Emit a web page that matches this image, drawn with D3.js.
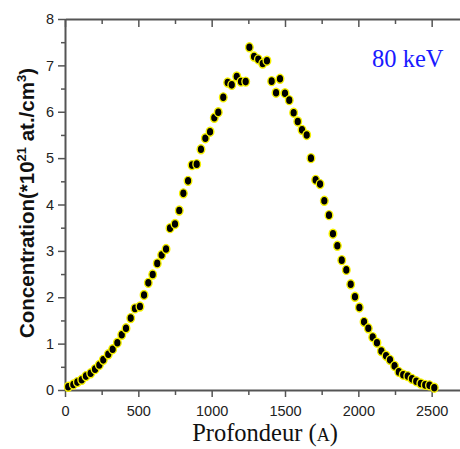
<!DOCTYPE html>
<html><head><meta charset="utf-8">
<script src="https://cdn.jsdelivr.net/npm/d3@7"></script>
<style>body{margin:0;background:#fff}svg{display:block}</style>
</head><body>
<script>
const depth = [22,57,84,114,143,175,205,234,261,295,325,357,387,416,448,477,511,539,568,598,629,659,689,716,750,779,807,839,866,898,927,957,989,1018,1045,1079,1109,1137,1171,1200,1232,1257,1289,1318,1348,1377,1409,1439,1466,1500,1529,1559,1587,1616,1648,1677,1709,1739,1768,1800,1827,1857,1887,1918,1948,1977,2007,2039,2068,2098,2127,2157,2189,2216,2247,2276,2306,2337,2366,2395,2426,2456,2485,2518];
const conc = [0.07,0.12,0.17,0.22,0.30,0.36,0.45,0.54,0.65,0.77,0.88,1.02,1.19,1.33,1.55,1.76,1.80,2.05,2.31,2.49,2.73,2.91,3.04,3.49,3.58,3.87,4.24,4.51,4.85,4.87,5.19,5.43,5.57,5.87,5.99,6.31,6.63,6.58,6.76,6.65,6.65,7.39,7.19,7.13,7.04,7.10,6.66,6.41,6.71,6.40,6.25,5.98,5.79,5.61,5.50,5.00,4.53,4.44,4.08,3.77,3.37,3.11,2.80,2.59,2.28,2.01,1.78,1.47,1.33,1.14,1.02,0.84,0.74,0.65,0.52,0.39,0.33,0.30,0.24,0.19,0.14,0.11,0.10,0.05];
const xMajor = [0,500,1000,1500,2000,2500];
const xMinor = [250,750,1250,1750,2250];
const yMajor = [0,1,2,3,4,5,6,7,8];
const yMinor = [0.5,1.5,2.5,3.5,4.5,5.5,6.5,7.5];
const xLabel = "Profondeur (";
const energyLabel = "80 keV";

const W = 460, H = 449;
const svg = d3.select("body").append("svg").attr("width", W).attr("height", H);
const x = d3.scaleLinear().domain([0, 2700]).range([65, 461]);
const y = d3.scaleLinear().domain([0, 8]).range([390, 19]);
const axisColor = "#555";

function styleAxis(g) {
  g.select(".domain").attr("stroke", axisColor).attr("stroke-width", 2);
  g.selectAll(".tick line").attr("stroke", axisColor).attr("stroke-width", 1.5);
  g.selectAll("text").attr("font-family", "Liberation Sans, Arial, sans-serif").attr("font-size", 14.5).attr("fill", "#222");
}

// bottom axis
const gb = svg.append("g").attr("transform", `translate(0,${y(0)})`)
  .call(d3.axisBottom(x).tickValues(xMajor).tickSize(7).tickPadding(9).tickSizeOuter(0).tickFormat(d3.format("d")));
styleAxis(gb);
const gbm = svg.append("g").attr("transform", `translate(0,${y(0)})`)
  .call(d3.axisBottom(x).tickValues(xMinor).tickSize(5).tickFormat(""));
gbm.select(".domain").remove(); styleAxis(gbm);

// top axis (ticks inward)
const gt = svg.append("g").attr("transform", `translate(0,${y(8)})`)
  .call(d3.axisBottom(x).tickValues(xMajor).tickSize(8).tickSizeOuter(0).tickFormat(""));
styleAxis(gt);
const gtm = svg.append("g").attr("transform", `translate(0,${y(8)})`)
  .call(d3.axisBottom(x).tickValues(xMinor).tickSize(5).tickFormat(""));
gtm.select(".domain").remove(); styleAxis(gtm);

// left axis
const gl = svg.append("g").attr("transform", `translate(${x(0)},0)`)
  .call(d3.axisLeft(y).tickValues(yMajor).tickSize(7).tickPadding(4).tickSizeOuter(0).tickFormat(d3.format("d")));
styleAxis(gl);
const glm = svg.append("g").attr("transform", `translate(${x(0)},0)`)
  .call(d3.axisLeft(y).tickValues(yMinor).tickSize(4).tickFormat(""));
glm.select(".domain").remove(); styleAxis(glm);

// points
const data = depth.map((d, i) => ({x: d, y: conc[i]}));
svg.append("g").selectAll("ellipse").data(data).join("ellipse")
  .attr("cx", d => x(d.x)).attr("cy", d => y(d.y))
  .attr("rx", 3.8).attr("ry", 4.5)
  .attr("fill", "#000").attr("stroke", "#f5f000").attr("stroke-width", 1.4);

// x label
const xl = svg.append("text").attr("x", 265).attr("y", 441).attr("text-anchor", "middle")
  .attr("font-family", "Liberation Serif, Times New Roman, serif").attr("font-size", 24.5).attr("fill", "#111");
xl.append("tspan").text(xLabel);
xl.append("tspan").attr("font-size", 18).text("A");
xl.append("tspan").text(")");

// y label
const yl = svg.append("text").attr("transform", "translate(34,203) rotate(-90)").attr("text-anchor", "middle")
  .attr("font-family", "Liberation Sans, Arial, sans-serif").attr("font-weight", "bold").attr("font-size", 20.5).attr("fill", "#111");
yl.append("tspan").text("Concentration(*10");
yl.append("tspan").attr("font-size", 13).attr("dy", -8).text("21");
yl.append("tspan").attr("dy", 8).text(" at./cm");
yl.append("tspan").attr("font-size", 13).attr("dy", -8).text("3");
yl.append("tspan").attr("dy", 8).text(")");

// energy annotation
svg.append("text").attr("x", 372).attr("y", 67).attr("font-family", "Liberation Serif, Times New Roman, serif")
  .attr("font-size", 24.5).attr("fill", "#1a1aff").text(energyLabel);
</script>
</body></html>
